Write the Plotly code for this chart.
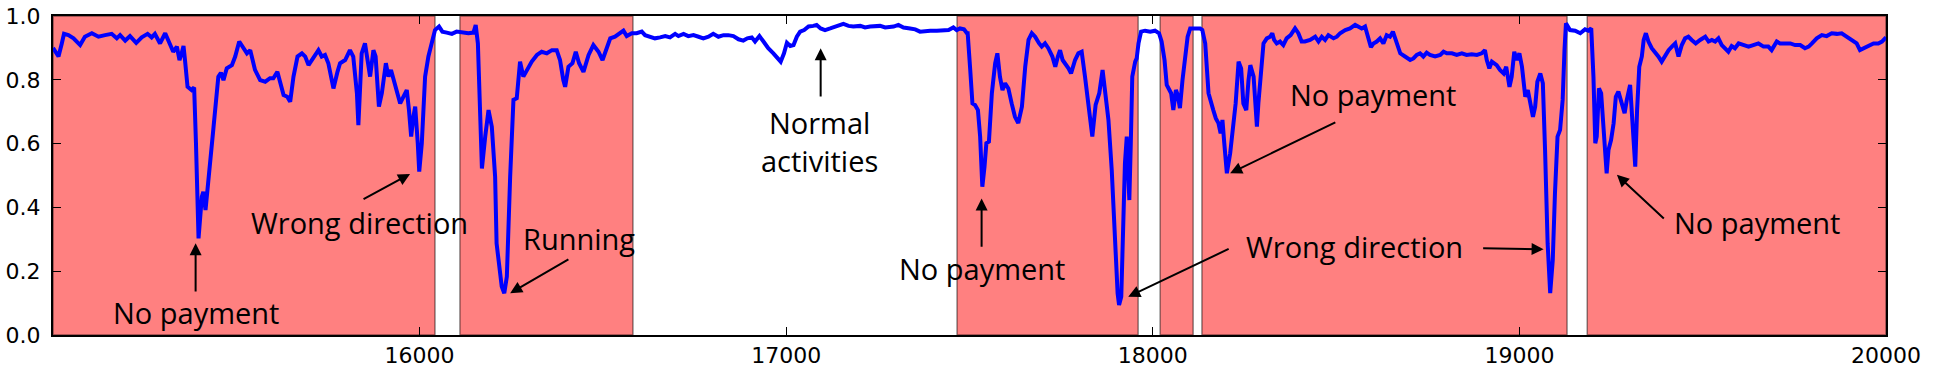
import plotly.graph_objects as go

# ---- data: anomaly score over time index ----
time_index = [
    15000, 15015, 15024, 15030, 15042, 15056, 15074, 15087, 15106, 15124, 15142, 15160, 15174, 15183, 15197, 15210,
    15227, 15242, 15258, 15269, 15278, 15292, 15306, 15319, 15328, 15338, 15345, 15351, 15356, 15360, 15367, 15378,
    15385, 15390, 15397, 15406, 15410, 15416, 15424, 15438, 15451, 15458, 15465, 15474, 15488, 15497, 15508, 15519,
    15529, 15538, 15551, 15565, 15579, 15592, 15601, 15612, 15621, 15629, 15639, 15647, 15656, 15667, 15679, 15688,
    15697, 15710, 15724, 15733, 15742, 15751, 15765, 15776, 15783, 15797, 15810, 15819, 15829,
    15833, 15842, 15851, 15860, 15865, 15874, 15880, 15889, 15897, 15908, 15915, 15922, 15933, 15947, 15956, 15965,
    15971, 15977, 15983, 15988, 15995, 15999, 16006, 16015, 16024, 16033, 16042, 16053, 16062, 16074, 16088, 16101,
    16115, 16133, 16147, 16153, 16159, 16165, 16170, 16179, 16188, 16197, 16206, 16210, 16217, 16224, 16231, 16238,
    16247, 16256, 16265, 16270, 16274, 16283, 16292, 16306, 16320, 16333, 16347, 16361, 16374, 16383, 16392, 16397,
    16406, 16417, 16426, 16435, 16447, 16461, 16474, 16488, 16499, 16508, 16520, 16533, 16547, 16556, 16565, 16579,
    16592, 16606, 16615, 16629, 16642, 16656,
    16670, 16683, 16697, 16706, 16720, 16733, 16747, 16761, 16774, 16788, 16801, 16815, 16829, 16842, 16856, 16870,
    16883, 16894, 16906, 16915, 16927, 16938, 16951, 16965, 16979, 16985, 16994, 17002, 17011, 17020, 17029, 17038,
    17049, 17061, 17074, 17083, 17094, 17106, 17120, 17133, 17147, 17156, 17170, 17183, 17202, 17215, 17229, 17242,
    17256, 17270, 17283, 17293, 17306, 17320, 17338, 17352, 17365, 17379, 17393, 17411, 17429, 17443, 17456, 17465,
    17474, 17485, 17493,
    17495, 17502, 17508, 17515, 17523, 17529, 17535, 17541, 17546, 17553, 17561, 17570, 17576, 17583, 17590, 17597,
    17606, 17615, 17624, 17633, 17643, 17652, 17661, 17670, 17679, 17690, 17697, 17706, 17715, 17726, 17734, 17741,
    17747, 17754, 17761, 17770, 17777, 17788, 17797, 17806, 17815, 17824, 17835, 17844, 17854, 17863, 17870, 17879,
    17888, 17897, 17904, 17908, 17914, 17920, 17924, 17929, 17934, 17936, 17940, 17944, 17952, 17956, 17961, 17968,
    17979, 17993, 18006, 18017, 18024, 18032, 18038, 18044, 18050, 18056, 18063, 18068, 18074, 18081, 18088, 18095,
    18102, 18115, 18129, 18135, 18143, 18152, 18161, 18165, 18172, 18179, 18185, 18190, 18195, 18202, 18211, 18220,
    18226, 18234, 18241, 18247, 18255, 18261, 18266, 18275, 18284, 18288, 18295, 18302, 18311, 18320, 18326,
    18331, 18338, 18347, 18356, 18365, 18376, 18388, 18397, 18406, 18415, 18429, 18443, 18452, 18461, 18470, 18479,
    18493, 18502, 18511, 18525, 18538, 18552, 18561, 18570, 18579, 18588, 18595, 18602, 18611, 18620, 18629, 18638,
    18647, 18655, 18664, 18675, 18688, 18702, 18711, 18720, 18729, 18738, 18747, 18756, 18770, 18784, 18793, 18802,
    18816, 18829, 18843, 18856, 18870, 18884, 18897, 18906, 18911, 18918, 18925, 18938, 18947, 18957, 18964, 18973,
    18979, 18986, 18993, 19000, 19007, 19016, 19023, 19029, 19037, 19043, 19049, 19057, 19064, 19070, 19077, 19084,
    19091, 19097, 19104, 19111, 19118, 19123, 19127, 19138, 19152, 19166,
    19179, 19188, 19196, 19202, 19207, 19211, 19217, 19223, 19229, 19234, 19238, 19243, 19250, 19257, 19263, 19270,
    19279, 19287, 19293, 19302, 19308, 19316, 19321, 19327, 19334, 19339, 19345, 19352, 19361, 19370, 19379, 19388,
    19398, 19407, 19416, 19425, 19434, 19443, 19452, 19461, 19470, 19481, 19493, 19507, 19516, 19525, 19534, 19543,
    19552, 19561, 19570, 19579, 19588, 19598, 19611, 19625, 19638, 19652, 19666, 19679, 19688, 19702, 19711, 19725,
    19739, 19752, 19766, 19779, 19789, 19798, 19811, 19825, 19838, 19852, 19866, 19879, 19893, 19907, 19920, 19929,
    19939, 19952, 19966, 19979, 19989, 20000,
]

score = [
    0.900, 0.873, 0.914, 0.944, 0.940, 0.930, 0.909, 0.935, 0.946, 0.935, 0.940, 0.944, 0.930, 0.940, 0.923, 0.937,
    0.916, 0.933, 0.944, 0.933, 0.944, 0.914, 0.946, 0.909, 0.888, 0.904, 0.862, 0.883, 0.906, 0.862, 0.778, 0.768,
    0.776, 0.601, 0.303, 0.434, 0.449, 0.392, 0.496, 0.653, 0.810, 0.822, 0.799, 0.836, 0.846, 0.873, 0.920, 0.899,
    0.883, 0.893, 0.831, 0.799, 0.794, 0.805, 0.805, 0.825, 0.784, 0.752, 0.747, 0.731, 0.810, 0.873, 0.883, 0.873,
    0.846, 0.867, 0.893, 0.873, 0.878, 0.852, 0.773, 0.825, 0.852, 0.862, 0.893, 0.873, 0.758,
    0.658, 0.883, 0.914, 0.852, 0.810, 0.893, 0.873, 0.716, 0.758, 0.852, 0.810, 0.831, 0.789, 0.726, 0.747, 0.768,
    0.705, 0.622, 0.684, 0.716, 0.601, 0.512, 0.601, 0.810, 0.873, 0.914, 0.956, 0.967, 0.951, 0.948, 0.944, 0.951,
    0.948, 0.946, 0.948, 0.972, 0.914, 0.705, 0.522, 0.622, 0.705, 0.653, 0.496, 0.287, 0.225, 0.152, 0.131, 0.183,
    0.496, 0.737, 0.742, 0.810, 0.857, 0.810, 0.831, 0.857, 0.878, 0.888, 0.883, 0.893, 0.893, 0.862, 0.799, 0.778,
    0.841, 0.852, 0.888, 0.852, 0.825, 0.878, 0.909, 0.888, 0.862, 0.893, 0.930, 0.935, 0.946, 0.954, 0.937, 0.946,
    0.946, 0.951, 0.940, 0.935, 0.930, 0.933,
    0.937, 0.933, 0.944, 0.937, 0.944, 0.937, 0.940, 0.935, 0.930, 0.935, 0.944, 0.935, 0.940, 0.940, 0.937, 0.927,
    0.923, 0.930, 0.933, 0.920, 0.937, 0.920, 0.899, 0.883, 0.862, 0.857, 0.883, 0.916, 0.906, 0.909, 0.935, 0.951,
    0.956, 0.967, 0.969, 0.972, 0.961, 0.956, 0.961, 0.967, 0.972, 0.975, 0.969, 0.967, 0.969, 0.964, 0.967, 0.967,
    0.969, 0.964, 0.964, 0.967, 0.972, 0.964, 0.961, 0.958, 0.951, 0.954, 0.954, 0.954, 0.956, 0.956, 0.964, 0.956,
    0.961, 0.958, 0.946,
    0.946, 0.831, 0.726, 0.721, 0.705, 0.622, 0.465, 0.528, 0.601, 0.606, 0.758, 0.852, 0.883, 0.810, 0.768, 0.789,
    0.773, 0.726, 0.684, 0.664, 0.716, 0.841, 0.925, 0.946, 0.935, 0.914, 0.904, 0.914, 0.899, 0.873, 0.841, 0.873,
    0.893, 0.862, 0.852, 0.836, 0.820, 0.862, 0.883, 0.888, 0.810, 0.716, 0.622, 0.721, 0.758, 0.831, 0.768, 0.674,
    0.517, 0.287, 0.131, 0.094, 0.120, 0.371, 0.538, 0.622, 0.517, 0.423, 0.601, 0.810, 0.857, 0.867, 0.914, 0.951,
    0.954, 0.951, 0.954, 0.946, 0.920, 0.862, 0.784, 0.773, 0.758, 0.705, 0.768, 0.752, 0.711, 0.799, 0.862, 0.935,
    0.961, 0.961, 0.961, 0.956, 0.914, 0.758, 0.716, 0.705, 0.679, 0.664, 0.632, 0.674, 0.601, 0.507, 0.569, 0.653,
    0.726, 0.857, 0.836, 0.726, 0.705, 0.799, 0.846, 0.810, 0.653, 0.726, 0.841, 0.914, 0.930, 0.935, 0.946,
    0.925, 0.914, 0.920, 0.909, 0.930, 0.940, 0.961, 0.946, 0.920, 0.920, 0.925, 0.935, 0.920, 0.935, 0.925, 0.940,
    0.930, 0.935, 0.946, 0.956, 0.961, 0.972, 0.967, 0.961, 0.967, 0.925, 0.902, 0.914, 0.920, 0.930, 0.914, 0.940,
    0.935, 0.951, 0.920, 0.883, 0.873, 0.862, 0.867, 0.878, 0.883, 0.873, 0.885, 0.878, 0.873, 0.878, 0.888, 0.883,
    0.883, 0.878, 0.883, 0.878, 0.880, 0.878, 0.883, 0.893, 0.862, 0.836, 0.857, 0.846, 0.831, 0.820, 0.841, 0.778,
    0.810, 0.888, 0.862, 0.883, 0.841, 0.747, 0.768, 0.726, 0.684, 0.716, 0.794, 0.820, 0.789, 0.580, 0.287, 0.131,
    0.235, 0.444, 0.622, 0.643, 0.737, 0.893, 0.977, 0.956, 0.954, 0.946,
    0.958, 0.954, 0.961, 0.810, 0.601, 0.622, 0.773, 0.758, 0.643, 0.559, 0.507, 0.580, 0.611, 0.664, 0.747, 0.763,
    0.726, 0.695, 0.737, 0.784, 0.674, 0.528, 0.705, 0.841, 0.873, 0.925, 0.946, 0.920, 0.899, 0.888, 0.873, 0.857,
    0.878, 0.893, 0.904, 0.914, 0.873, 0.909, 0.930, 0.935, 0.925, 0.914, 0.925, 0.935, 0.920, 0.925, 0.920, 0.930,
    0.909, 0.899, 0.888, 0.906, 0.899, 0.914, 0.909, 0.904, 0.909, 0.914, 0.904, 0.904, 0.893, 0.920, 0.914, 0.914,
    0.914, 0.909, 0.909, 0.899, 0.904, 0.914, 0.930, 0.940, 0.937, 0.946, 0.944, 0.946, 0.935, 0.927, 0.914, 0.893,
    0.899, 0.909, 0.914, 0.914, 0.920, 0.933,
]

# anomaly spans (shaded)
span_start = [15000, 16110, 17466, 18020, 18134, 19185]
span_end = [16042, 16582, 17960, 18110, 19130, 20000]

x_ticks = [16000, 17000, 18000, 19000, 20000]
y_ticks = [0.0, 0.2, 0.4, 0.6, 0.8, 1.0]

# labels: text, centre x, centre y
label_text = ["No payment", "Wrong direction", "Running", "Normal<br>activities",
              "No payment", "Wrong direction", "No payment", "No payment"]
label_x = [15389, 15837, 16436, 17092, 17533, 18551, 18602, 19647]
label_y = [0.069, 0.354, 0.304, 0.607, 0.210, 0.276, 0.755, 0.354]

# arrows: tail (x, y) -> tip (x, y)
arrow_tail_x = [15389, 15843, 16410, 17094, 17533, 18211, 18897, 18502, 19398]
arrow_tail_y = [0.132, 0.423, 0.240, 0.743, 0.272, 0.272, 0.272, 0.669, 0.361]
arrow_tip_x = [15389, 15974, 16247, 17094, 17533, 17933, 19066, 18211, 19266]
arrow_tip_y = [0.288, 0.505, 0.131, 0.899, 0.428, 0.120, 0.269, 0.507, 0.502]

fig = go.Figure()
fig.add_trace(go.Scatter(x=time_index, y=score, mode="lines",
                         line=dict(color="#0000FF", width=4), showlegend=False,
                         hoverinfo="x+y"))

for s, e in zip(span_start, span_end):
    fig.add_shape(type="rect", xref="x", yref="y", x0=s, x1=e, y0=0, y1=1,
                  fillcolor="rgb(255,128,128)", line=dict(color="rgba(0,0,0,0.45)", width=1.5),
                  layer="below")

for t, x, y in zip(label_text, label_x, label_y):
    fig.add_annotation(x=x, y=y, xref="x", yref="y", text=t, showarrow=False,
                       xanchor="center", yanchor="middle",
                       font=dict(family="Open Sans", size=29, color="black"))

for tx, ty, hx, hy in zip(arrow_tail_x, arrow_tail_y, arrow_tip_x, arrow_tip_y):
    fig.add_annotation(x=hx, y=hy, ax=tx, ay=ty, xref="x", yref="y", axref="x", ayref="y",
                       text="", showarrow=True, arrowhead=2, arrowsize=1.2,
                       arrowwidth=2, arrowcolor="black", standoff=0, startstandoff=0)

axis_common = dict(showgrid=False, zeroline=False, showline=True, linecolor="black",
                   linewidth=2, mirror="ticks", ticks="inside", ticklen=8, tickwidth=1,
                   tickcolor="black", automargin=False,
                   tickfont=dict(family="DejaVu Sans", size=22, color="black"))

fig.update_xaxes(range=[15000, 20000], tickvals=x_ticks,
                 ticktext=[str(v) for v in x_ticks], **axis_common)
fig.update_yaxes(range=[0, 1], tickvals=y_ticks,
                 ticktext=[f"{v:.1f}" for v in y_ticks], ticklabelstandoff=6, **axis_common)

fig.update_layout(width=1935, height=367, margin=dict(l=53, r=49, t=16, b=32),
                  plot_bgcolor="white", paper_bgcolor="white")

fig.write_html("out.html", config={"displayModeBar": False},
               post_script="document.body.style.margin='0';document.body.style.padding='0';"
                           "document.documentElement.style.overflow='hidden';")
